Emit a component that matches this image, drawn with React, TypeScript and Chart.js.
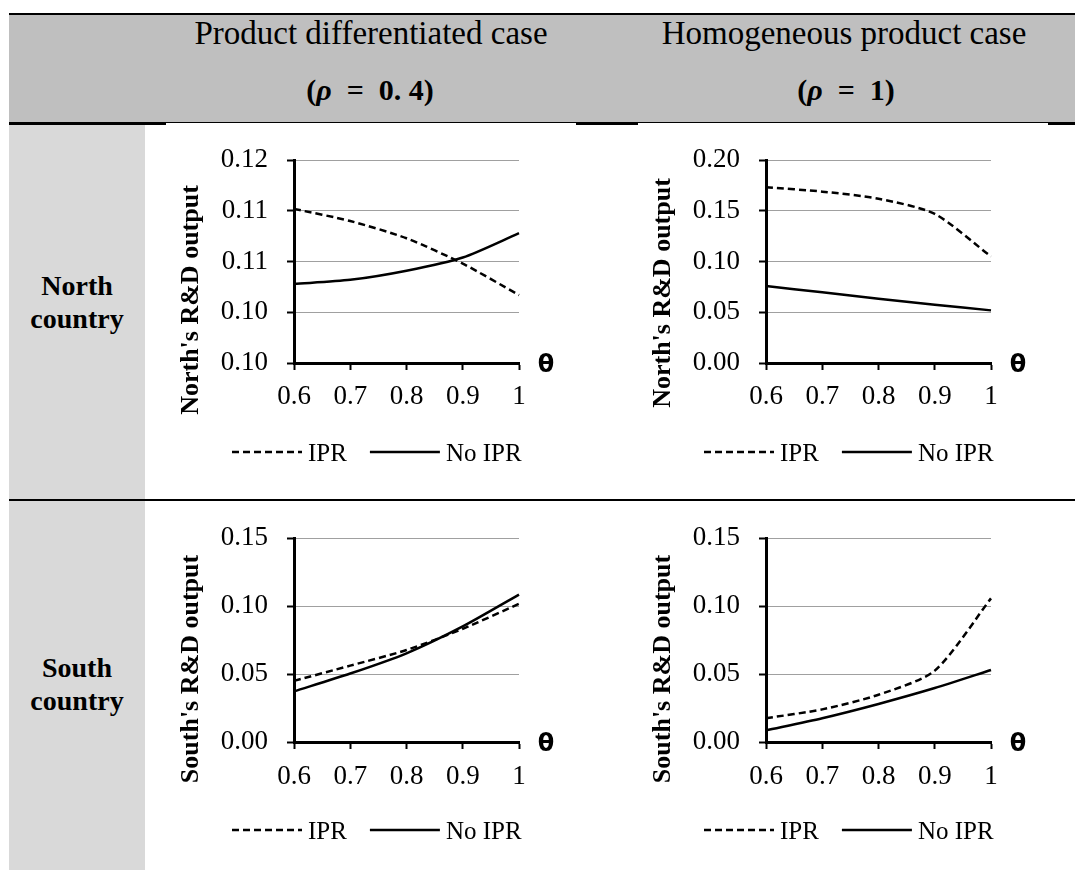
import React, { useEffect, useRef } from 'react';
import { Chart, registerables } from 'chart.js';

Chart.register(...registerables);

// ---------- data ----------
const thetaLabels = ['0.6', '0.7', '0.8', '0.9', '1'];
const seriesNames = ['IPR', 'No IPR'];
const xAxisSymbol = 'θ';
const yTitles = ["North's R&D output", "South's R&D output"];

const northDiffIPR = [0.1152, 0.1140, 0.1123, 0.1098, 0.1067];
const northDiffNoIPR = [0.1078, 0.1082, 0.1091, 0.1104, 0.1128];
const northHomoIPR = [0.1734, 0.1690, 0.1620, 0.1470, 0.1050];
const northHomoNoIPR = [0.0759, 0.0697, 0.0634, 0.0575, 0.0519];
const southDiffIPR = [0.0450, 0.0562, 0.0677, 0.0833, 0.1017];
const southDiffNoIPR = [0.0373, 0.0504, 0.0653, 0.0851, 0.1085];
const southHomoIPR = [0.0175, 0.0240, 0.0348, 0.0525, 0.1057];
const southHomoNoIPR = [0.0086, 0.0175, 0.0280, 0.0397, 0.0530];

const northDiffYTicks = [0.1, 0.105, 0.11, 0.115, 0.12];
const northDiffYLabels = ['0.10', '0.10', '0.11', '0.11', '0.12'];
const northHomoYTicks = [0, 0.05, 0.1, 0.15, 0.2];
const northHomoYLabels = ['0.00', '0.05', '0.10', '0.15', '0.20'];
const southYTicks = [0, 0.05, 0.1, 0.15];
const southYLabels = ['0.00', '0.05', '0.10', '0.15'];

const headerTitles = ['Product differentiated case', 'Homogeneous product case'];
const rhoValues = ['0. 4', '1'];
const rowTitles = [['North', 'country'], ['South', 'country']];

// ---------- styling ----------
const SERIF = '"Liberation Serif", "Times New Roman", serif';
const DASH = [7, 4];
const LINE_W = 2.5;

const decorPlugin = {
  id: 'decor',
  afterDraw(chart: any, _args: any, opts: any) {
    const { ctx, chartArea: ca } = chart;
    // y title
    ctx.save();
    ctx.translate(ca.left - 103, ca.bottom - opts.titleOffset);
    ctx.rotate(-Math.PI / 2);
    ctx.font = `bold 26px ${SERIF}`;
    ctx.fillStyle = '#000';
    ctx.textAlign = 'center';
    ctx.textBaseline = 'middle';
    ctx.fillText(opts.yTitle, 0, 0);
    ctx.restore();
    // theta
    ctx.save();
    ctx.font = 'bold 24px "DejaVu Sans", sans-serif';
    ctx.fillStyle = '#000';
    ctx.textAlign = 'center';
    ctx.textBaseline = 'middle';
    ctx.fillText(xAxisSymbol, ca.right + 27, ca.bottom + 3);
    ctx.restore();
    // legend
    ctx.save();
    const y = ca.bottom + opts.legendOffset;
    let x = ca.left - 62;
    ctx.font = `25px ${SERIF}`;
    ctx.fillStyle = '#000';
    ctx.strokeStyle = '#000';
    ctx.textAlign = 'left';
    ctx.textBaseline = 'alphabetic';
    chart.data.datasets.forEach((ds: any) => {
      ctx.lineWidth = LINE_W;
      ctx.setLineDash(ds.borderDash || []);
      ctx.beginPath();
      ctx.moveTo(x, y);
      ctx.lineTo(x + 70, y);
      ctx.stroke();
      ctx.setLineDash([]);
      x += 76;
      ctx.fillText(ds.label, x, y + 8.5);
      x += ctx.measureText(ds.label).width + 23;
    });
    ctx.restore();
  },
};

interface ChartProps {
  left: number;
  top: number;
  plotH: number;
  ipr: number[];
  noIpr: number[];
  yTicks: number[];
  yLabels: string[];
  yTitle: string;
  titleOffset: number;
  legendOffset: number;
  xPad: number;
}

function LineChart(p: ChartProps) {
  const ref = useRef<HTMLCanvasElement>(null);
  const width = 445;
  const height = 24 + p.plotH + 120;
  useEffect(() => {
    const yMin = p.yTicks[0];
    const yMax = p.yTicks[p.yTicks.length - 1];
    const chart = new Chart(ref.current as HTMLCanvasElement, {
      type: 'line',
      data: {
        labels: thetaLabels,
        datasets: [
          {
            label: seriesNames[0],
            data: p.ipr,
            borderColor: '#000',
            backgroundColor: '#000',
            borderWidth: LINE_W,
            borderDash: DASH,
            pointRadius: 0,
            tension: 0.25,
            fill: false,
          },
          {
            label: seriesNames[1],
            data: p.noIpr,
            borderColor: '#000',
            backgroundColor: '#000',
            borderWidth: LINE_W,
            borderDash: [],
            pointRadius: 0,
            tension: 0.25,
            fill: false,
          },
        ],
      },
      options: {
        responsive: false,
        animation: false,
        devicePixelRatio: 1,
        layout: { padding: { left: 0, right: 80, top: 24, bottom: 60 } },
        plugins: {
          legend: { display: false },
          tooltip: { enabled: false },
          decor: { yTitle: p.yTitle, titleOffset: p.titleOffset, legendOffset: p.legendOffset },
        } as any,
        scales: {
          x: {
            type: 'category',
            offset: false,
            grid: {
              display: true,
              drawOnChartArea: false,
              drawTicks: true,
              tickLength: 7,
              tickColor: '#000',
              tickWidth: 2,
            },
            border: { display: true, color: '#000', width: 3 },
            ticks: {
              font: { family: SERIF, size: 27 },
              color: '#000',
              padding: p.xPad,
              maxRotation: 0,
              autoSkip: false,
            },
            afterFit: (s: any) => {
              s.height = 60;
            },
          },
          y: {
            type: 'linear',
            min: yMin,
            max: yMax,
            afterBuildTicks: (s: any) => {
              s.ticks = p.yTicks.map((v) => ({ value: v }));
            },
            ticks: {
              font: { family: SERIF, size: 27 },
              color: '#000',
              padding: 19,
              callback: (_v: any, i: number) => p.yLabels[i],
            },
            grid: {
              color: (c: any) => (c.index === 0 ? 'rgba(0,0,0,0)' : '#a0a0a0'),
              lineWidth: 1,
              tickLength: 7,
              tickColor: '#000',
              tickWidth: 2,
            },
            border: { display: true, color: '#000', width: 3 },
            afterFit: (s: any) => {
              s.width = 140;
            },
          },
        },
      } as any,
      plugins: [decorPlugin as any],
    });
    return () => chart.destroy();
  }, []);
  return (
    <canvas
      ref={ref}
      width={width}
      height={height}
      style={{ position: 'absolute', left: p.left, top: p.top, width, height }}
    />
  );
}

function Txt({ cx, baseline, size, bold, children }: any) {
  return (
    <div
      style={{
        position: 'absolute',
        left: cx,
        top: baseline - 0.8375 * size,
        transform: 'translateX(-50%)',
        fontFamily: SERIF,
        fontSize: size,
        lineHeight: 1,
        fontWeight: bold ? 'bold' : 'normal',
        whiteSpace: 'nowrap',
        color: '#000',
      }}
    >
      {children}
    </div>
  );
}

const box = (l: number, t: number, w: number, h: number, bg: string) => (
  <div style={{ position: 'absolute', left: l, top: t, width: w, height: h, background: bg }} />
);

export default function App() {
  return (
    <div
      style={{
        position: 'absolute',
        left: 0,
        top: 0,
        width: 1075,
        height: 870,
        overflow: 'hidden',
        background: '#fff',
      }}
    >
      {box(9, 15, 1066, 107, '#bfbfbf')}
      {box(9, 13, 1066, 2, '#000')}
      {box(9, 122, 1066, 1, '#000')}
      {box(9, 123, 157, 2, '#000')}
      {box(576, 123, 62, 2, '#000')}
      {box(1048, 123, 27, 2, '#000')}
      {box(9, 125, 136, 745, '#d9d9d9')}
      {box(9, 499, 1066, 2, '#000')}

      <Txt cx={371} baseline={45} size={33}>{headerTitles[0]}</Txt>
      <Txt cx={844} baseline={45} size={33}>{headerTitles[1]}</Txt>
      <Txt cx={370} baseline={100} size={30} bold>
        (<i>ρ</i>{'\u2002=\u2002'}{rhoValues[0]})
      </Txt>
      <Txt cx={846} baseline={100} size={30} bold>
        (<i>ρ</i>{'\u2002=\u2002'}{rhoValues[1]})
      </Txt>

      <Txt cx={77} baseline={295} size={28} bold>{rowTitles[0][0]}</Txt>
      <Txt cx={77} baseline={328} size={28} bold>{rowTitles[0][1]}</Txt>
      <Txt cx={77} baseline={677} size={28} bold>{rowTitles[1][0]}</Txt>
      <Txt cx={77} baseline={710} size={28} bold>{rowTitles[1][1]}</Txt>

      <LineChart
        left={154}
        top={125}
        plotH={214}
        ipr={northDiffIPR}
        noIpr={northDiffNoIPR}
        yTicks={northDiffYTicks}
        yLabels={northDiffYLabels}
        yTitle={yTitles[0]}
        titleOffset={63}
        legendOffset={89}
        xPad={11}
      />
      <LineChart
        left={626}
        top={125}
        plotH={214}
        ipr={northHomoIPR}
        noIpr={northHomoNoIPR}
        yTicks={northHomoYTicks}
        yLabels={northHomoYLabels}
        yTitle={yTitles[0]}
        titleOffset={70}
        legendOffset={89}
        xPad={11}
      />
      <LineChart
        left={154}
        top={503}
        plotH={215}
        ipr={southDiffIPR}
        noIpr={southDiffNoIPR}
        yTicks={southYTicks}
        yLabels={southYLabels}
        yTitle={yTitles[1]}
        titleOffset={73}
        legendOffset={88}
        xPad={12}
      />
      <LineChart
        left={626}
        top={503}
        plotH={215}
        ipr={southHomoIPR}
        noIpr={southHomoNoIPR}
        yTicks={southYTicks}
        yLabels={southYLabels}
        yTitle={yTitles[1]}
        titleOffset={73}
        legendOffset={88}
        xPad={12}
      />
    </div>
  );
}
